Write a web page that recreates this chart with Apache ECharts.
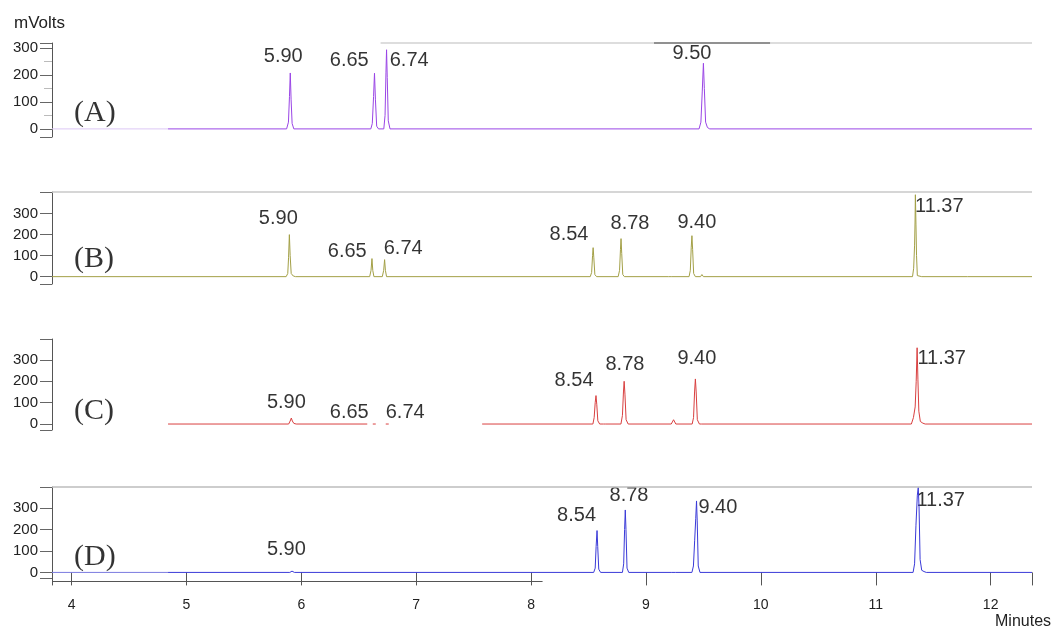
<!DOCTYPE html>
<html><head><meta charset="utf-8">
<script src="https://cdn.jsdelivr.net/npm/echarts@6/dist/echarts.min.js"></script>
<style>html,body{margin:0;padding:0;background:#fff}#c{width:1058px;height:635px}</style>
</head><body><div id="c"></div>
<script>
// ---- data ----
const xMin = 3.83, xMax = 12.36;
const xTickLabels = [4, 5, 6, 7, 8, 9, 10, 11, 12];
const yTickLabels = [0, 100, 200, 300];
const yMinorTicksA = [50, 150, 250];
const panelNames = ['(A)', '(B)', '(C)', '(D)'];
const yRanges = [[-30, 318], [-35, 403], [-28, 398], [-26, 398]];

// leading (faint) baseline segments
const leadA = [[3.83, 0], [4.84, 0]];
const leadD = [[3.83, 0], [4.84, 0]];

const traceA = [
  [4.84, 0], [5.872, 0], [5.888, 25], [5.897, 120], [5.904, 207], [5.911, 110], [5.92, 20], [5.935, 0],
  [6.605, 0], [6.618, 20], [6.629, 120], [6.637, 206], [6.645, 110], [6.656, 10], [6.672, 0],
  [6.718, 0], [6.729, 50], [6.737, 210], [6.742, 293], [6.748, 190], [6.757, 30], [6.772, 0],
  [9.462, 0], [9.478, 25], [9.49, 140], [9.50, 243], [9.508, 150], [9.519, 25], [9.535, 5], [9.555, 0],
  [12.36, 0]
];
const traceB = [
  [3.83, 0], [5.868, 0], [5.882, 15], [5.889, 90], [5.896, 200], [5.903, 100], [5.912, 15], [5.93, 3], [5.95, 0],
  [6.595, 0], [6.607, 30], [6.615, 86], [6.622, 30], [6.632, 0],
  [6.705, 0], [6.717, 30], [6.725, 81], [6.732, 30], [6.742, 0],
  [8.515, 0], [8.527, 20], [8.535, 100], [8.54, 138], [8.546, 90], [8.555, 10], [8.57, 0],
  [8.758, 0], [8.77, 30], [8.778, 130], [8.783, 181], [8.789, 110], [8.798, 10], [8.812, 0],
  [9.195, 0], [9.21, 5], [9.225, 0],
  [9.375, 0], [9.386, 30], [9.394, 140], [9.40, 195], [9.406, 130], [9.415, 15], [9.43, 0],
  [9.475, 0], [9.487, 10], [9.5, 0],
  [11.32, 0], [11.33, 40], [11.338, 150], [11.342, 260], [11.345, 390], [11.35, 250], [11.355, 100], [11.362, 5], [11.375, 0],
  [11.4, 0], [11.405, 3], [11.41, 0], [11.8, 0], [12.36, 0]
];
const traceC = [
  [4.84, 0], [5.89, 0], [5.903, 14], [5.913, 28], [5.922, 14], [5.935, 3], [5.955, 0], [6.574, 0], [6.59, '-'],
  [6.622, 0], [6.635, 8], [6.648, 0], [6.69, '-'],
  [6.735, 0], [6.748, 8], [6.761, 0], [7.0, '-'],
  [7.574, 0], [8.538, 0], [8.549, 30], [8.558, 100], [8.565, 133], [8.572, 90], [8.581, 15], [8.597, 0],
  [8.63, 0], [8.64, 5], [8.65, 0],
  [8.782, 0], [8.795, 40], [8.804, 150], [8.81, 200], [8.817, 140], [8.827, 20], [8.845, 0],
  [9.22, 0], [9.24, 20], [9.26, 0],
  [9.402, 0], [9.414, 30], [9.423, 150], [9.43, 211], [9.437, 150], [9.447, 20], [9.465, 0],
  [9.485, 0], [9.493, 6], [9.5, 0],
  [11.31, 0], [11.328, 30], [11.343, 80], [11.352, 200], [11.36, 357], [11.367, 210], [11.375, 60], [11.388, 12], [11.41, 4], [11.43, 0],
  [12.36, 0]
];
const traceD = [
  [4.84, 0], [5.9, 0], [5.912, 4], [5.919, 6], [5.926, 3], [5.94, 0],
  [8.545, 0], [8.558, 20], [8.566, 120], [8.574, 195], [8.58, 120], [8.589, 15], [8.605, 0],
  [8.795, 0], [8.806, 40], [8.814, 200], [8.82, 291], [8.826, 200], [8.835, 20], [8.85, 0],
  [9.225, 0], [9.24, 5], [9.255, 0],
  [9.40, 0], [9.413, 30], [9.424, 150], [9.433, 250], [9.44, 333], [9.446, 240], [9.455, 30], [9.47, 0],
  [11.325, 0], [11.338, 40], [11.35, 220], [11.362, 360], [11.37, 396], [11.377, 300], [11.386, 60], [11.4, 10], [11.42, 4], [11.44, 0],
  [12.36, 0]
];

// peak retention-time labels: [time, mV, text]
const labelsA = [[5.843, 267, '5.90'], [6.417, 252, '6.65'], [6.939, 252, '6.74'], [9.40, 281, '9.50']];
const labelsB = [[5.80, 276, '5.90'], [6.40, 119, '6.65'], [6.887, 133, '6.74'], [8.33, 200, '8.54'],
                 [8.861, 252, '8.78'], [9.443, 257, '9.40'], [11.553, 336, '11.37']];
const labelsC = [[5.87, 103, '5.90'], [6.417, 56, '6.65'], [6.904, 56, '6.74'], [8.374, 202, '8.54'],
                 [8.817, 277, '8.78'], [9.443, 305, '9.40'], [11.574, 309, '11.37']];
const labelsD = [[5.87, 106, '5.90'], [8.396, 265, '8.54'], [8.852, 357, '8.78'], [9.626, 302, '9.40'],
                 [11.565, 337, '11.37']];
// panel letter anchors (left edge): [time, mV]
const letterPos = [[4.017, 59], [4.017, 84], [4.017, 59], [4.017, 70]];
// scan-artifact top border fragments per panel: [panel, from, to, colour]
const borderSegs = [[0, 6.69, 12.36, '#d2d2d2'], [0, 9.07, 10.08, '#777'], [1, 3.83, 12.36, '#c8c8c8'], [3, 3.83, 12.36, '#bdbdbd']];
const xAxisLineSeg = [3.83, 8.1];

// ---- layout / style ----
const tops = [43, 192, 339, 487];
const heights = [94, 92, 91, 91];
const colors = ['#9a45e6', '#a3a046', '#d94040', '#3a3ad8'];
const leadColors = ['#dcc8f5', null, null, '#7b7be0'];
const SANS = '"Liberation Sans", Arial, Helvetica, sans-serif';
const SERIF = '"Liberation Serif", "Times New Roman", serif';

const traces = [traceA, traceB, traceC, traceD];
const leads = [leadA, null, null, leadD];
const labels = [labelsA, labelsB, labelsC, labelsD];

const grid = [], xAxis = [], yAxis = [], series = [];
for (let i = 0; i < 4; i++) {
  grid.push({left: 52, right: 26, top: tops[i], height: heights[i], containLabel: false});
  const [ymin, ymax] = yRanges[i];
  const isLast = i === 3;
  xAxis.push({
    type: 'value', gridIndex: i, min: xMin, max: xMax, show: isLast, offset: 3,
    axisLine: {show: false},
    axisTick: {show: isLast, customValues: [xMin].concat(xTickLabels, [xMax]), length: 13, inside: false,
               lineStyle: {color: '#555', width: 1}},
    axisLabel: {show: isLast, customValues: xTickLabels, fontSize: 14, color: '#222', margin: 17, fontFamily: SANS},
    splitLine: {show: false}
  });
  yAxis.push({
    type: 'value', gridIndex: i, min: ymin, max: ymax,
    axisLine: {show: true, onZero: false, lineStyle: {color: '#555', width: 1}},
    axisTick: {show: true, customValues: [ymin].concat(yTickLabels, [ymax]), length: 12, lineStyle: {color: '#666'}},
    axisLabel: {customValues: yTickLabels, fontSize: 15, color: '#222', margin: 14, fontFamily: SANS},
    splitLine: {show: false}
  });
  yAxis.push({
    type: 'value', gridIndex: i, min: ymin, max: ymax, position: 'left',
    axisLine: {show: false},
    axisTick: {show: i === 0, customValues: yMinorTicksA, length: 8, lineStyle: {color: '#bbb'}},
    axisLabel: {show: false}, splitLine: {show: false}
  });

  const borders = borderSegs.filter(s => s[0] === i).map(s => [
    {coord: [s[1], ymax], lineStyle: {color: s[3], width: 1.5, type: 'solid'}},
    {coord: [s[2], ymax]}
  ]);

  if (leads[i]) {
    series.push({type: 'line', xAxisIndex: i, yAxisIndex: 2 * i, data: leads[i], showSymbol: false,
      silent: true, clip: false, lineStyle: {color: leadColors[i], width: 1}, animation: false});
  }
  series.push({
    type: 'line', xAxisIndex: i, yAxisIndex: 2 * i, data: traces[i], showSymbol: false, silent: true,
    connectNulls: false, clip: false, lineStyle: {color: colors[i], width: 1}, animation: false,
    markLine: borders.length ? {symbol: 'none', silent: true, animation: false, label: {show: false}, data: borders} : undefined
  });
  series.push({
    type: 'scatter', xAxisIndex: i, yAxisIndex: 2 * i, data: labels[i], symbolSize: 1, silent: true,
    itemStyle: {color: 'rgba(0,0,0,0)'}, animation: false, clip: false,
    label: {show: true, position: 'inside', formatter: p => p.data[2], fontSize: 20, color: '#000', fontFamily: SANS}
  });
  series.push({
    type: 'scatter', xAxisIndex: i, yAxisIndex: 2 * i, data: [letterPos[i].concat([panelNames[i]])], symbolSize: 1,
    silent: true, itemStyle: {color: 'rgba(0,0,0,0)'}, animation: false, clip: false,
    label: {show: true, position: 'right', distance: 0, formatter: p => p.data[2], fontSize: 30, color: '#000', fontFamily: SERIF}
  });
}

const chart = echarts.init(document.getElementById('c'), null, {renderer: 'canvas'});
chart.setOption({
  animation: false,
  backgroundColor: '#fff',
  grid, xAxis, yAxis, series
});
// partial bottom axis line, placed through the library's x scale
const xa = chart.convertToPixel({xAxisIndex: 3}, xAxisLineSeg[0]);
const xb = chart.convertToPixel({xAxisIndex: 3}, xAxisLineSeg[1]);
const yLine = tops[3] + heights[3] + 3;
chart.setOption({graphic: [
  {type: 'text', left: 14, top: 15, style: {text: 'mVolts', font: '17px ' + SANS, fill: '#222'}},
  {type: 'text', left: 995, top: 614, style: {text: 'Minutes', font: '16px ' + SANS, fill: '#222'}},
  {type: 'line', shape: {x1: xa, y1: yLine + 0.5, x2: xb, y2: yLine + 0.5}, style: {stroke: '#555', lineWidth: 1}, silent: true}
]});
</script>
</body></html>
